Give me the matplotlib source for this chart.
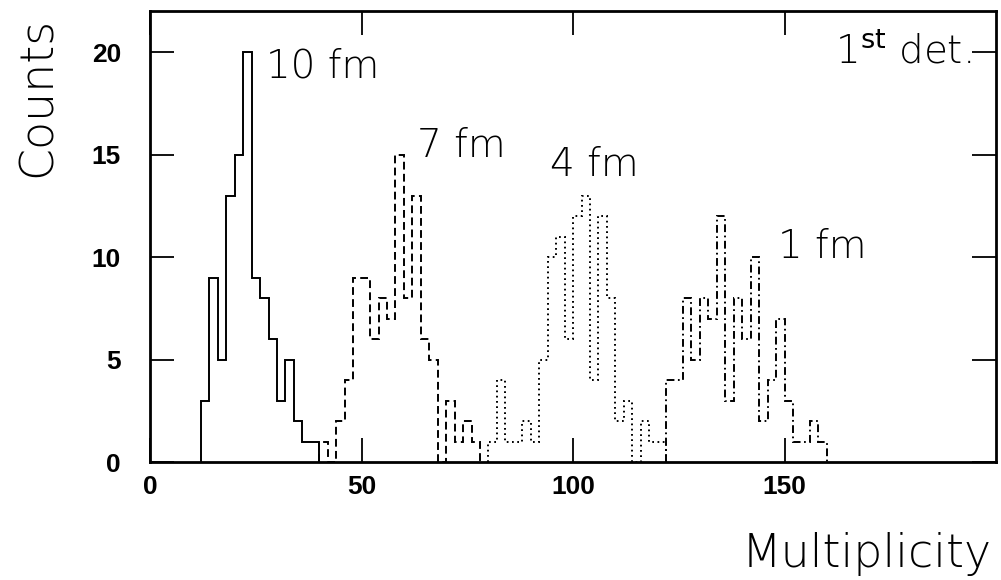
import matplotlib.pyplot as plt
import numpy as np

# multiplicity histograms, 2-unit bins, one per impact parameter
bw = 2
start_10fm = 12
counts_10fm = [3, 9, 5, 13, 15, 20, 9, 8, 6, 3, 5, 2, 1, 1]
start_7fm = 40
counts_7fm = [1, 0, 2, 4, 9, 9, 6, 8, 7, 15, 8, 13, 6, 5, 0, 3, 1, 2, 1]
start_4fm = 80
counts_4fm = [1, 4, 1, 1, 2, 1, 5, 10, 11, 6, 12, 13, 4, 12, 8, 2, 3, 0, 2, 1, 1]
start_1fm = 122
counts_1fm = [4, 4, 8, 5, 8, 7, 12, 3, 8, 6, 10, 2, 4, 7, 3, 1, 1, 2, 1]

labels = ['10 fm', '7 fm', '4 fm', '1 fm']
label_pos = [(27.5, 19.3), (63, 15.4), (94.5, 14.5), (148.5, 10.5)]

styles = ['-', (0, (4, 2.2)), (0, (0.9, 1.8)), (0, (4, 1.8, 0.9, 1.8))]

fig = plt.figure(figsize=(10.01, 5.80), dpi=100)
ax = fig.add_axes([0.150, 0.2034, 0.845, 0.7776])

series = [(start_10fm, counts_10fm), (start_7fm, counts_7fm),
          (start_4fm, counts_4fm), (start_1fm, counts_1fm)]
for (x0, c), ls in zip(series, styles):
    edges = x0 + bw * np.arange(len(c) + 1)
    ax.stairs(c, edges, baseline=0, color='black', lw=1.4, linestyle=ls)

ax.set_xlim(0, 200)
ax.set_ylim(0, 22)
ax.set_xticks([0, 50, 100, 150])
ax.set_yticks([0, 5, 10, 15, 20])
ax.tick_params(direction='in', length=17, width=1.3, top=True, right=True,
               labelsize=19, pad=9)
ax.tick_params(axis='y', pad=21)
for lab in ax.get_xticklabels() + ax.get_yticklabels():
    lab.set_fontfamily('Liberation Sans')
    lab.set_fontweight('bold')
for sp in ax.spines.values():
    sp.set_linewidth(2)

font = dict(family='DejaVu Sans', fontweight='light', color='black')
for txt, (x, y) in zip(labels, label_pos):
    ax.text(x, y, txt, fontsize=28, va='center', ha='left', **font)
ax.text(194.2, 20.0, r'1$^{\mathrm{st}}$ det.', fontsize=28, va='center', ha='right', **font)

fig.text(0.038, 0.833, 'Counts', rotation=90, fontsize=33, ha='center', va='center', **font)
fig.text(0.991, 0.045, 'Multiplicity', fontsize=33, ha='right', va='center', **font)

fig.savefig('out.png', dpi=100)
